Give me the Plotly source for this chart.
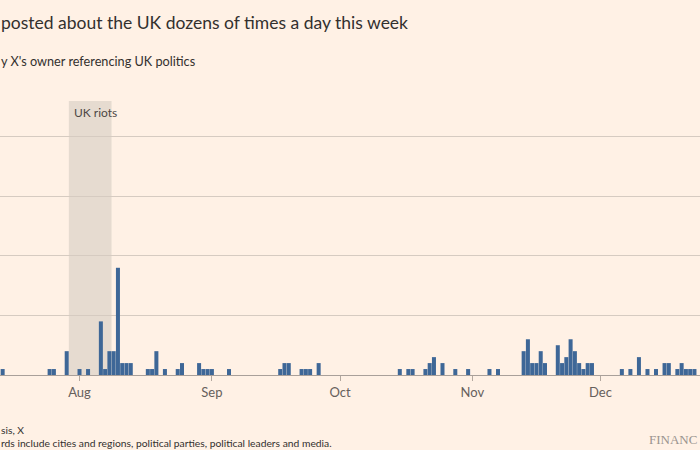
import pandas as pd
import plotly.graph_objects as go

# ---- data ----
dates = [
    "2024-07-14", "2024-07-25", "2024-07-26", "2024-07-29",
    "2024-08-01", "2024-08-03", "2024-08-06", "2024-08-07", "2024-08-08", "2024-08-09",
    "2024-08-10", "2024-08-11", "2024-08-12", "2024-08-13", "2024-08-17", "2024-08-18",
    "2024-08-19", "2024-08-21", "2024-08-24", "2024-08-25", "2024-08-29", "2024-08-30",
    "2024-08-31", "2024-09-01", "2024-09-05", "2024-09-17", "2024-09-18", "2024-09-19",
    "2024-09-22", "2024-09-23", "2024-09-24", "2024-09-26",
    "2024-10-15", "2024-10-17", "2024-10-18", "2024-10-21", "2024-10-22", "2024-10-23",
    "2024-10-25", "2024-10-28", "2024-10-31",
    "2024-11-05", "2024-11-07", "2024-11-13", "2024-11-14", "2024-11-15", "2024-11-16",
    "2024-11-17", "2024-11-18", "2024-11-21", "2024-11-22", "2024-11-23", "2024-11-24",
    "2024-11-25", "2024-11-26", "2024-11-27", "2024-11-28", "2024-11-29",
    "2024-12-06", "2024-12-08", "2024-12-10", "2024-12-12", "2024-12-14", "2024-12-16",
    "2024-12-17", "2024-12-19", "2024-12-20", "2024-12-21", "2024-12-22", "2024-12-23",
]
posts = [
    1, 1, 1, 4,
    1, 1, 9, 1, 4, 4,
    18, 2, 2, 2, 1, 1,
    4, 1, 1, 2, 2, 1,
    1, 1, 1, 1, 2, 2,
    1, 1, 1, 2,
    1, 1, 1, 1, 2, 3,
    2, 1, 1,
    1, 1, 4, 6, 2, 2,
    4, 2, 5, 2, 3, 6,
    4, 2, 1, 2, 2,
    1, 1, 3, 1, 1, 2,
    2, 1, 2, 1, 1, 1,
]
riots_start = "2024-07-29 12:00"
riots_end = "2024-08-08 12:00"
y_ticks = [0, 10, 20, 30, 40]

BG = "#fff1e5"
BAR = "#3e6797"
TEXT = "#33302e"
SUB = "#66605c"

aug1 = pd.Timestamp("2024-08-01")
x_left = aug1 + pd.Timedelta(days=-18.62)
x_right = aug1 + pd.Timedelta(days=145.3)

PLOT_TOP, PLOT_BOTTOM = 101, 375


def ypaper(px):
    return (PLOT_BOTTOM - px) / (PLOT_BOTTOM - PLOT_TOP)


fig = go.Figure()
fig.add_trace(go.Bar(
    x=pd.to_datetime(dates), y=posts,
    marker=dict(color=BAR, line=dict(width=0)),
    width=1000 * 3600 * 24 * 0.94,
    hoverinfo="x+y",
))

fig.add_shape(type="rect", xref="x", yref="paper",
              x0=riots_start, x1=riots_end, y0=0, y1=1,
              fillcolor="#e6dbd0", line=dict(width=0), layer="below")

fig.add_annotation(x=riots_start, y=1, xref="x", yref="paper",
                   text="UK riots", showarrow=False, xanchor="left", yanchor="top",
                   xshift=3, yshift=-2, font=dict(size=12, color="#4d4845"))

fig.update_layout(
    width=700, height=450,
    paper_bgcolor=BG, plot_bgcolor=BG,
    margin=dict(l=0, r=0, t=PLOT_TOP, b=450 - PLOT_BOTTOM),
    showlegend=False,
    bargap=0.06,
    font=dict(family="Lato, 'Open Sans', sans-serif", color=SUB),
    xaxis=dict(
        type="date", range=[x_left, x_right],
        tick0="2024-08-01", dtick="M1", tickformat="%b",
        ticks="outside", ticklen=5, tickcolor="#b3a89f", tickwidth=1,
        showgrid=False, showline=False, zeroline=False,
        tickfont=dict(size=13, color=SUB),
    ),
    yaxis=dict(
        range=[0, 46], tickvals=y_ticks, showticklabels=False,
        showgrid=True, gridcolor="#d6cbc1", gridwidth=1,
        zeroline=True, zerolinecolor="#a9a09a", zerolinewidth=1,
        showline=False, fixedrange=True,
    ),
)

fig.add_annotation(xref="paper", yref="paper", x=-0.002, y=ypaper(22),
                   text="posted about the UK dozens of times a day this week",
                   showarrow=False, xanchor="left", yanchor="middle",
                   font=dict(size=17.5, color=TEXT))
fig.add_annotation(xref="paper", yref="paper", x=-0.002, y=ypaper(61),
                   text="y X's owner referencing UK politics",
                   showarrow=False, xanchor="left", yanchor="middle",
                   font=dict(size=12.7, color=TEXT))
fig.add_annotation(xref="paper", yref="paper", x=-0.002, y=ypaper(430),
                   text="sis, X",
                   showarrow=False, xanchor="left", yanchor="middle",
                   font=dict(size=10.3, color=TEXT))
fig.add_annotation(xref="paper", yref="paper", x=-0.002, y=ypaper(443),
                   text="rds include cities and regions, political parties, political leaders and media.",
                   showarrow=False, xanchor="left", yanchor="middle",
                   font=dict(size=10.3, color=TEXT))
fig.add_annotation(xref="paper", yref="paper", x=699 / 700, y=ypaper(440),
                   text="FINANC",
                   showarrow=False, xanchor="right", yanchor="middle",
                   font=dict(size=13, color="#9a948f", family="'Liberation Serif', serif"))

fig.write_html("out.html", config={"displayModeBar": False},
               post_script="document.body.style.margin='0';document.body.style.padding='0';")
